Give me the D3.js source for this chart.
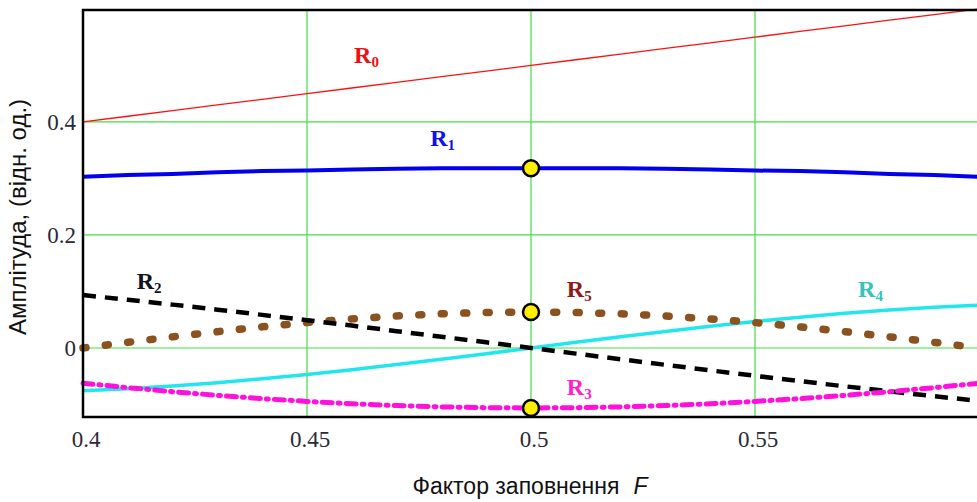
<!DOCTYPE html>
<html><head><meta charset="utf-8">
<script src="https://cdn.jsdelivr.net/npm/d3@7"></script>
<style>body{margin:0;background:#fff}svg{display:block}</style>
</head><body>
<svg id="c" width="977" height="502"></svg>
<script>
const F = [0.40,0.41,0.42,0.43,0.44,0.45,0.46,0.47,0.48,0.49,0.50,0.51,0.52,0.53,0.54,0.55,0.56,0.57,0.58,0.59,0.60];
const R0 = [0.40,0.41,0.42,0.43,0.44,0.45,0.46,0.47,0.48,0.49,0.50,0.51,0.52,0.53,0.54,0.55,0.56,0.57,0.58,0.59,0.60];
const R1 = [0.303,0.306,0.308,0.311,0.313,0.314,0.316,0.317,0.318,0.318,0.318,0.318,0.318,0.317,0.316,0.314,0.313,0.311,0.308,0.306,0.303];
const R2 = [0.0936,0.0853,0.0767,0.0678,0.0586,0.0492,0.0396,0.0298,0.0199,0.0100,0,-0.0100,-0.0199,-0.0298,-0.0396,-0.0492,-0.0586,-0.0678,-0.0767,-0.0853,-0.0936];
const R3 = [-0.0624,-0.0702,-0.0773,-0.0838,-0.0896,-0.0945,-0.0987,-0.1019,-0.1042,-0.1056,-0.1061,-0.1056,-0.1042,-0.1019,-0.0987,-0.0945,-0.0896,-0.0838,-0.0773,-0.0702,-0.0624];
const R4 = [-0.0757,-0.0720,-0.0672,-0.0613,-0.0545,-0.0468,-0.0383,-0.0293,-0.0198,-0.0100,0,0.0100,0.0198,0.0293,0.0383,0.0468,0.0545,0.0613,0.0672,0.0720,0.0757];
const R5 = [0,0.0100,0.0197,0.0289,0.0374,0.0450,0.0515,0.0567,0.0605,0.0629,0.0637,0.0629,0.0605,0.0567,0.0515,0.0450,0.0374,0.0289,0.0197,0.0100,0];
const xTicks = [0.4,0.45,0.5,0.55];
const xTickLabels = ["0.4","0.45","0.5","0.55"];
const yTicks = [0,0.2,0.4];
const yTickLabels = ["0","0.2","0.4"];
const markerF = [0.5,0.5,0.5];
const markerV = [0.318,0.0637,-0.1061];
const labelNames = ["R","R","R","R","R","R"];
const labelSubs = ["0","1","2","3","4","5"];
const labelF = [0.4605,0.4775,0.4120,0.5080,0.5730,0.5080];
const labelV = [0.504,0.357,0.104,-0.083,0.090,0.090];

const serif = "'Liberation Serif', 'Times New Roman', Times, serif";
const sans = "'Liberation Sans', Arial, Helvetica, sans-serif";
const svg = d3.select("#c");
const x = d3.scaleLinear().domain([0.4,0.6]).range([83,979]);
const y = d3.scaleLinear().domain([-0.1221,0.598]).range([417,10]);

// grid
svg.append("g").selectAll("line").data(xTicks.slice(1)).join("line")
  .attr("x1",d=>x(d)).attr("x2",d=>x(d)).attr("y1",10).attr("y2",417)
  .attr("stroke","#44dd44").attr("stroke-width",1.2);
svg.append("g").selectAll("line").data(yTicks).join("line")
  .attr("x1",83).attr("x2",979).attr("y1",d=>y(d)).attr("y2",d=>y(d))
  .attr("stroke","#44dd44").attr("stroke-width",1.2);

const line = d3.line().x((d,i)=>x(F[i])).y(d=>y(d));
function series(data,color,w,dash,cap){
  svg.append("path").datum(data).attr("d",line).attr("fill","none")
    .attr("stroke",color).attr("stroke-width",w)
    .attr("stroke-dasharray",dash||null).attr("stroke-linecap",cap||"butt");
}
series(R4,"#22e6ee",3.5);
series(R5,"#8b5220",7.5,"3 19.5","round");
series(R2,"#000000",4.5,"13 9");
series(R3,"#ff11dd",5,"10 6 2 6","round");
series(R1,"#0000ee",4);
series(R0,"#ff1010",1.3);

// frame
svg.append("path").attr("d",`M${x(0.6)+2},10H83V417H${x(0.6)+2}`)
  .attr("fill","none").attr("stroke","#000").attr("stroke-width",2.5);

// markers
svg.append("g").selectAll("circle").data(markerV).join("circle")
  .attr("cx",(d,i)=>x(markerF[i])).attr("cy",d=>y(d)).attr("r",8)
  .attr("fill","#ffee00").attr("stroke","#000").attr("stroke-width",2.5);

// tick labels
svg.append("g").selectAll("text").data(xTicks).join("text")
  .attr("x",d=>x(d)+3).attr("y",447).attr("text-anchor","middle")
  .attr("font-family",serif).attr("font-size",23).attr("fill","#2a2a38")
  .text((d,i)=>xTickLabels[i]);
svg.append("g").selectAll("text").data(yTicks).join("text")
  .attr("x",76).attr("y",d=>y(d)+8).attr("text-anchor","end")
  .attr("font-family",serif).attr("font-size",23).attr("fill","#2a2a38")
  .text((d,i)=>yTickLabels[i]);

// axis titles
const xt = svg.append("text").attr("x",530).attr("y",494).attr("text-anchor","middle")
  .attr("font-family",sans).attr("font-size",23).attr("fill","#111");
xt.append("tspan").text("Фактор заповнення");
xt.append("tspan").attr("dx",14).attr("font-style","italic").text("F");
svg.append("text").attr("transform","translate(26,217) rotate(-90)").attr("text-anchor","middle")
  .attr("font-family",sans).attr("font-size",24).attr("fill","#111")
  .text("Амплітуда, (відн. од.)");

// series labels
const labelColors = ["#ee1111","#1111ee","#111122","#ff22cc","#33c4bc","#8b1a1a"];
const lg = svg.append("g").selectAll("text").data(labelV).join("text")
  .attr("x",(d,i)=>x(labelF[i])).attr("y",d=>y(d))
  .attr("font-family",serif).attr("font-weight","bold")
  .attr("font-size",24).attr("fill",(d,i)=>labelColors[i]);
lg.append("tspan").text((d,i)=>labelNames[i]);
lg.append("tspan").attr("font-size",15).attr("dy",4).text((d,i)=>labelSubs[i]);
</script>
</body></html>
